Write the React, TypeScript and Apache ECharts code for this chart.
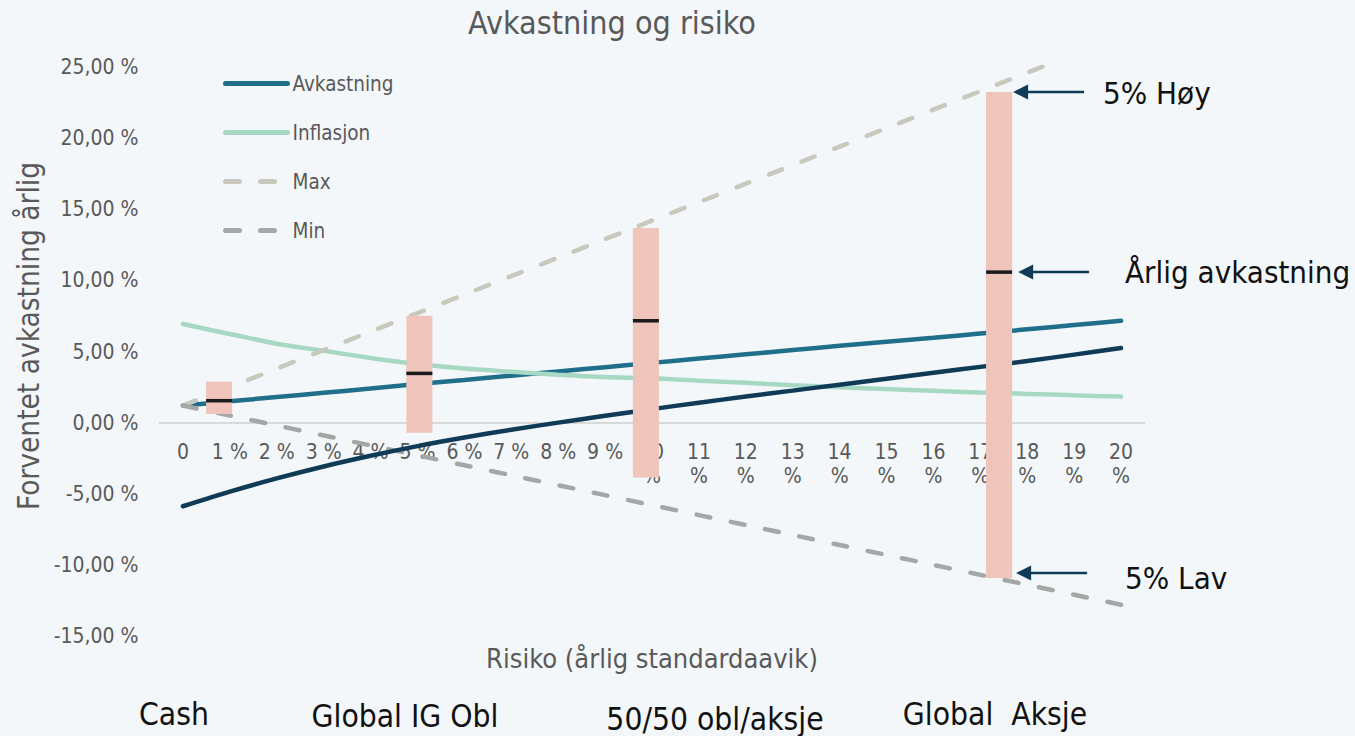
import React, { useEffect, useRef } from "react";
import * as echarts from "echarts";

const categories = [
  "0", "1 %", "2 %", "3 %", "4 %", "5 %", "6 %", "7 %", "8 %", "9 %", "10 %",
  "11 %", "12 %", "13 %", "14 %", "15 %", "16 %", "17 %", "18 %", "19 %", "20 %",
];

const avkastning = [1.2, 1.5, 1.8, 2.1, 2.4, 2.72, 3.0, 3.3, 3.6, 3.9, 4.2, 4.5, 4.8, 5.1, 5.4, 5.68, 5.96, 6.26, 6.56, 6.86, 7.16];
const inflasjon = [6.93, 6.23, 5.55, 5.05, 4.55, 4.12, 3.8, 3.58, 3.37, 3.2, 3.12, 2.95, 2.8, 2.63, 2.48, 2.36, 2.24, 2.12, 2.02, 1.92, 1.83];
const maxLinje = [1.2, 2.5, 3.8, 5.1, 6.4, 7.7, 9.0, 10.3, 11.6, 12.9, 14.2, 15.5, 16.8, 18.1, 19.4, 20.7, 22.0, 23.3, 24.6, 25.9, 27.2];
const minLinje = [1.2, 0.5, -0.2, -0.9, -1.6, -2.3, -3.0, -3.7, -4.4, -5.1, -5.8, -6.5, -7.2, -7.9, -8.6, -9.3, -10.0, -10.7, -11.4, -12.1, -12.8];
const realavkastning = [-5.88, -4.85, -3.92, -3.08, -2.33, -1.65, -1.05, -0.5, 0.0, 0.48, 0.95, 1.4, 1.83, 2.25, 2.67, 3.08, 3.5, 3.92, 4.33, 4.78, 5.24];

const boxX = [0.77, 5.04, 9.87, 17.4];
const boxLow = [0.61, -0.72, -3.86, -10.92];
const boxHigh = [2.88, 7.51, 13.69, 23.24];
const boxMid = [1.54, 3.46, 7.16, 10.58];

const yMin = -15;
const yMax = 25;
const yStep = 5;

const aktivaklasser = ["Cash", "Global IG Obl", "50/50 obl/aksje", "Global  Aksje"];
const annotasjoner = ["5% Høy", "Årlig avkastning", "5% Lav"];

const FONT = "'DejaVu Sans Condensed', 'DejaVu Sans', sans-serif";
const GREY = "#595959";
const INK = "#111111";
const NAVY = "#0f3b57";

const GRID_TOP = 67;
const GRID_HEIGHT = 569;

export default function App() {
  const ref = useRef<HTMLDivElement>(null);

  useEffect(() => {
    const chart = echarts.init(ref.current!, null, { renderer: "svg" });

    const lineSeries = (name: string, data: number[], color: string, dashed: boolean) => ({
      name,
      type: "line",
      data,
      xAxisIndex: 0,
      yAxisIndex: 0,
      symbol: "none",
      smooth: 0.3,
      z: 2,
      lineStyle: {
        color,
        width: 4.5,
        type: dashed ? [14, 21] : "solid",
        cap: "round",
      },
      itemStyle: { color },
    });

    // distance from grid bottom up to the zero line, so the category axis sits on y = 0
    const zeroOffset = -(GRID_HEIGHT * (0 - yMin)) / (yMax - yMin);

    const option: any = {
      animation: false,
      backgroundColor: "#f3f7f9",
      textStyle: { fontFamily: FONT },
      grid: { left: 159.5, top: GRID_TOP, width: 985, height: GRID_HEIGHT, containLabel: false, outerBoundsMode: "none" },
      legend: {
        data: ["Avkastning", "Inflasjon", "Max", "Min"],
        orient: "vertical",
        left: 223,
        top: 73,
        padding: 0,
        itemWidth: 62,
        itemHeight: 20,
        itemGap: 28,
        itemStyle: { opacity: 0 },
        lineStyle: { width: 5, cap: "round" },
        textStyle: { fontSize: 20.5, color: GREY, fontFamily: FONT },
      },
      xAxis: [
        {
          type: "category",
          data: categories,
          boundaryGap: true,
          position: "bottom",
          offset: zeroOffset,
          axisLine: { onZero: false, lineStyle: { color: "#d9d9d9", width: 2 } },
          axisTick: { show: false },
          splitLine: { show: false },
          axisLabel: {
            interval: 0,
            fontSize: 21,
            color: GREY,
            fontFamily: FONT,
            margin: 17,
            lineHeight: 24,
            formatter: (v: string) => (v.length > 3 ? v.replace(" ", "\n") : v),
          },
        },
        { type: "value", min: -0.5, max: 20.5, show: false, splitLine: { show: false } },
      ],
      yAxis: {
        type: "value",
        min: yMin,
        max: yMax,
        interval: yStep,
        axisLine: { show: false, onZero: false },
        axisTick: { show: false },
        splitLine: { show: false },
        axisLabel: {
          fontSize: 21,
          color: GREY,
          fontFamily: FONT,
          margin: 21,
          formatter: (v: number) => v.toFixed(2).replace(".", ",") + " %",
        },
      },
      series: [
        lineSeries("Avkastning", avkastning, "#1f6f8b", false),
        lineSeries("Inflasjon", inflasjon, "#a7d8c3", false),
        lineSeries("Max", maxLinje, "#c8c9bc", true),
        lineSeries("Min", minLinje, "#a5a7a7", true),
        lineSeries("Realavkastning", realavkastning, NAVY, false),
        {
          name: "Utfallsrom",
          type: "custom",
          xAxisIndex: 1,
          yAxisIndex: 0,
          z: 5,
          data: boxX.map((x, i) => [x, boxLow[i], boxHigh[i], boxMid[i]]),
          renderItem: (_params: any, api: any) => {
            const x = api.value(0);
            const lo = api.coord([x, api.value(1)]);
            const hi = api.coord([x, api.value(2)]);
            const mid = api.coord([x, api.value(3)]);
            const w = 26;
            return {
              type: "group",
              children: [
                {
                  type: "rect",
                  shape: { x: hi[0] - w / 2, y: hi[1], width: w, height: lo[1] - hi[1] },
                  style: { fill: "#efc4ba" },
                },
                {
                  type: "line",
                  shape: { x1: mid[0] - w / 2, y1: mid[1], x2: mid[0] + w / 2, y2: mid[1] },
                  style: { stroke: "#1a1a1a", lineWidth: 3.5 },
                },
              ],
            };
          },
        },
      ],
    };

    chart.setOption(option);

    const last = boxX.length - 1;
    const targets = [boxHigh[last], boxMid[last], boxLow[last]].map((v) =>
      chart.convertToPixel({ seriesIndex: 5 }, [boxX[last], v]) as number[]
    );
    const yOffsets = [0, 0, -5];
    const tipOffsets = [14, 19, 17];
    const arrows: any[] = [];
    targets.forEach((p, i) => {
      const tx = p[0] + tipOffsets[i];
      const ty = p[1] + yOffsets[i];
      arrows.push({
        type: "line",
        shape: { x1: tx + 10, y1: ty, x2: tx + 71, y2: ty },
        style: { stroke: NAVY, lineWidth: 2.5 },
        z: 10,
      });
      arrows.push({
        type: "polygon",
        shape: { points: [[tx, ty], [tx + 15, ty - 7.5], [tx + 15, ty + 7.5]] },
        style: { fill: NAVY },
        z: 10,
      });
    });

    const txt = (text: string, x: number, y: number, size: number, color: string, align = "center", rotation = 0) => ({
      type: "text",
      x,
      y,
      rotation,
      z: 10,
      style: {
        text,
        fontSize: size,
        fill: color,
        fontFamily: FONT,
        align,
        verticalAlign: "middle",
      },
    });

    chart.setOption({
      graphic: [
        txt("Avkastning og risiko", 612, 23, 32, GREY),
        txt("Forventet avkastning årlig", 29, 336, 29.5, GREY, "center", Math.PI / 2),
        txt("Risiko (årlig standardaavik)", 652, 658, 27, GREY),
        txt(annotasjoner[0], 1103, 93, 31, INK, "left"),
        txt(annotasjoner[1], 1125, 272, 31, INK, "left"),
        txt(annotasjoner[2], 1125, 578, 31, INK, "left"),
        txt(aktivaklasser[0], 174, 714, 31.5, INK),
        txt(aktivaklasser[1], 405, 716, 31.5, INK),
        txt(aktivaklasser[2], 715, 719, 31.5, INK),
        txt(aktivaklasser[3], 995, 714, 31.5, INK),
        ...arrows,
      ],
    });

    return () => chart.dispose();
  }, []);

  return (
    <div
      ref={ref}
      style={{ position: "fixed", left: 0, top: 0, width: 1355, height: 736, background: "#f3f7f9" }}
    />
  );
}
